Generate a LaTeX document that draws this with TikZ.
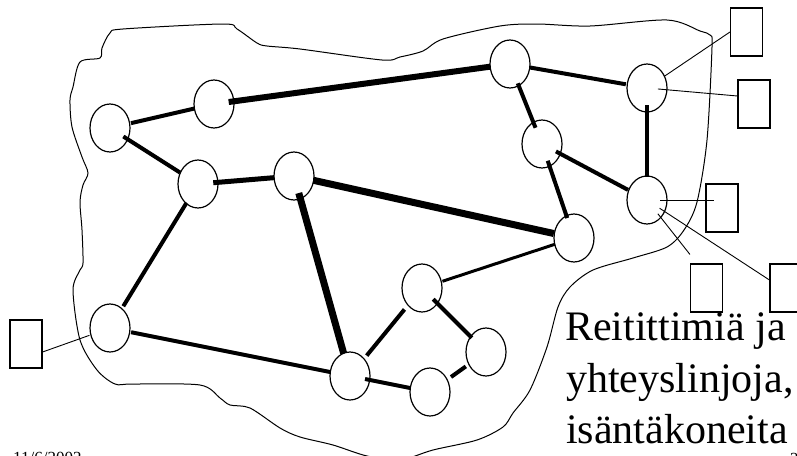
\documentclass[tikz,border=0pt]{standalone}
\usepackage{fontspec}
\setmainfont{Liberation Serif}
\usetikzlibrary{shapes.geometric,calc}
\begin{document}
\begin{tikzpicture}[x=1pt,y=-1pt,
  router/.style={draw,ellipse,minimum width=40pt,minimum height=48pt,inner sep=0pt,line width=1.2pt},
  host/.style={draw,rectangle,minimum width=32pt,minimum height=48pt,inner sep=0pt,line width=1.1pt},
  link/.style={line width=#1,line cap=butt},
  hostlink/.style={line width=0.9pt},
  big/.style={font=\fontsize{42}{51}\selectfont,anchor=base west,inner sep=0pt}]
\useasboundingbox (0,0) rectangle (797,455);
% cloud
\draw[line width=1pt] plot[smooth cycle,tension=0.5] coordinates {
(80,62) (100,58) (102,48) (110,33) (123,29) (223,24) (237,29) (257,43) (267,46)
(300,49) (382,60) (400,57) (423,51) (443,39) (500,26) (537,24) (590,26) (667,20)
(700,31) (710,35) (712,47) (707,140) (697,202) (684,230) (667,247) (633,258)
(593,270) (570,287) (558,307) (547,347) (530,390) (513,413) (503,427) (477,440)
(433,450) (400,460) (367,456) (333,445) (300,437) (280,428) (250,408) (230,405)
(220,398) (200,385) (133,384) (115,384) (97,370) (80,340) (73,290) (80,270)
(83,263) (82,230) (80,202) (83,185) (88,173) (82,157) (72,127) (70,100) (73,87)};
% routers
\node[router] (A) at (110,128) {};
\node[router] (B) at (214,104) {};
\node[router] (C) at (198,184) {};
\node[router] (D) at (294,176) {};
\node[router] (E) at (510,64) {};
\node[router] (F) at (647,88) {};
\node[router] (G) at (542,144) {};
\node[router] (H) at (647,200) {};
\node[router] (I) at (574,238) {};
\node[router] (J) at (110,328) {};
\node[router] (K) at (350,376) {};
\node[router] (L) at (422,288) {};
\node[router] (M) at (486,352) {};
\node[router] (N) at (430,392) {};
% hosts
\node[host] (h1) at (746.5,32) {};
\node[host] (h2) at (754,104) {};
\node[host] (h3) at (722,208) {};
\node[host] (h4) at (706.5,288) {};
\node[host] (h5) at (786,288) {};
\node[host] (h6) at (26,344) {};
% router links
\draw[link=4pt,shorten <=21.5pt,shorten >=20pt] (A.center) -- (B.center);
\draw[link=6pt,shorten <=14.8pt,shorten >=20pt] (B.center) -- (E.center);
\draw[link=4pt,shorten <=15.8pt,shorten >=21.2pt] (A.center) -- (C.center);
\draw[link=5pt,shorten <=15.3pt,shorten >=20pt] (C.center) -- (D.center);
\draw[link=7pt,shorten <=20pt,shorten >=20.6pt] (D.center) -- (I.center);
\draw[link=7pt,shorten <=17.7pt,shorten >=23.5pt] (D.center) -- (K.center);
\draw[link=4pt,shorten <=22.2pt,shorten >=25.5pt] (C.center) -- (J.center);
\draw[link=4pt,shorten <=21.5pt,shorten >=20pt] (J.center) -- (K.center);
\draw[link=4pt,shorten <=20pt,shorten >=21.5pt] (E.center) -- (F.center);
\draw[link=4pt,shorten <=20.8pt,shorten >=17.5pt] (E.center) -- (G.center);
\draw[link=4pt,shorten <=15.8pt,shorten >=21.5pt] (G.center) -- (H.center);
\draw[link=4pt,shorten <=17.7pt,shorten >=21.1pt] (G.center) -- (I.center);
\draw[link=4pt,shorten <=17.3pt,shorten >=23.2pt] (F.center) -- (H.center);
\draw[link=3pt,shorten <=21.5pt,shorten >=20pt] (L.center) -- (I.center);
\draw[link=4pt,shorten <=15.8pt,shorten >=20pt] (L.center) -- (M.center);
\draw[link=4pt,shorten <=27.7pt,shorten >=26.4pt] (L.center) -- (K.center);
\draw[link=4pt,shorten <=15.3pt,shorten >=20pt] (K.center) -- (N.center);
\draw[link=4pt,shorten <=25.8pt,shorten >=24.8pt] (N.center) -- (M.center);
% host links
\draw[hostlink,shorten <=20.8pt] (F.center) -- (h1.west);
\draw[hostlink,shorten <=11pt] (F.center) -- ($(h2.west)+(0,-8)$);
\draw[hostlink,shorten <=13pt] (H.center) -- ($(h3.center)+(-8,-8)$);
\draw[hostlink,shorten <=17.5pt] (H.center) -- ($(h4.north west)+(0,-9)$);
\draw[hostlink,shorten <=15pt] (H.center) -- ($(h5.west)+(0,-8)$);
\draw[hostlink,shorten <=21.9pt] (J.center) -- ($(h6.east)+(0,8)$);
% texts
\node[big] (t1) at (565,340) {Reitittimiä ja};
\node[big] (t2) at (566,392) {yhteyslinjoja,};
\node[big] (t3) at (566,443) {isäntäkoneita};
\node[font=\fontsize{17}{20}\selectfont,anchor=base west,inner sep=0pt] (date) at (13,463.5) {11/6/2002};
\node[font=\fontsize{17}{20}\selectfont,anchor=base west,inner sep=0pt] (pg) at (790,464) {2};
\end{tikzpicture}
\end{document}
